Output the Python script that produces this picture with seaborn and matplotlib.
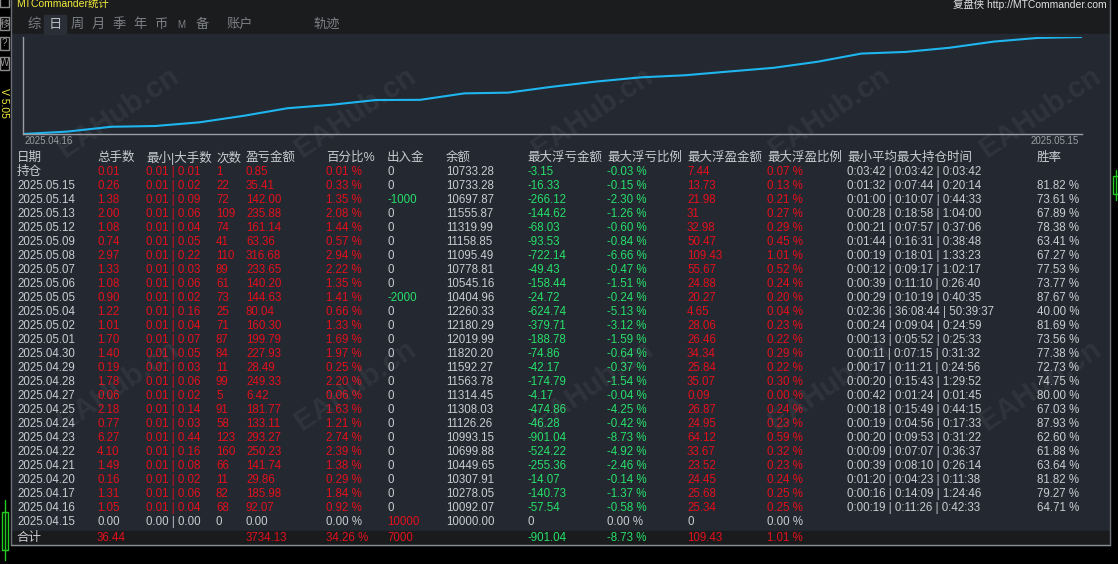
import numpy as np
import pandas as pd
import seaborn as sns
import matplotlib.pyplot as plt
from matplotlib.patches import Rectangle

# ---- data ----
headers = ["日期", "总手数", "最小|大手数", "次数", "盈亏金额", "百分比%", "出入金", "余额",
           "最大浮亏金额", "最大浮亏比例", "最大浮盈金额", "最大浮盈比例", "最小平均最大持仓时间", "胜率"]
dates = ["持仓", "2025.05.15", "2025.05.14", "2025.05.13", "2025.05.12", "2025.05.09", "2025.05.08",
         "2025.05.07", "2025.05.06", "2025.05.05", "2025.05.04", "2025.05.02", "2025.05.01",
         "2025.04.30", "2025.04.29", "2025.04.28", "2025.04.27", "2025.04.25", "2025.04.24",
         "2025.04.23", "2025.04.22", "2025.04.21", "2025.04.20", "2025.04.17", "2025.04.16", "2025.04.15"]
lots = [0.01, 0.26, 1.38, 2.00, 1.08, 0.74, 2.97, 1.33, 1.08, 0.90, 1.22, 1.01, 1.70,
        1.40, 0.19, 1.78, 0.06, 2.18, 0.77, 6.27, 4.10, 1.49, 0.16, 1.31, 1.05, 0.00]
max_lot = [0.01, 0.02, 0.09, 0.06, 0.04, 0.05, 0.22, 0.03, 0.06, 0.02, 0.16, 0.04, 0.07,
           0.05, 0.03, 0.06, 0.02, 0.14, 0.03, 0.44, 0.16, 0.08, 0.02, 0.06, 0.04, 0.00]
trades = [1, 22, 72, 109, 74, 41, 110, 89, 61, 73, 25, 71, 87,
          84, 11, 99, 5, 91, 58, 123, 160, 66, 11, 82, 68, 0]
profit = [0.85, 35.41, 142.00, 235.88, 161.14, 63.36, 316.68, 233.65, 140.20, 144.63, 80.04, 160.30, 199.79,
          227.93, 28.49, 249.33, 6.42, 181.77, 133.11, 293.27, 250.23, 141.74, 29.86, 185.98, 92.07, 0.00]
pct = [0.01, 0.33, 1.35, 2.08, 1.44, 0.57, 2.94, 2.22, 1.35, 1.41, 0.66, 1.33, 1.69,
       1.97, 0.25, 2.20, 0.06, 1.63, 1.21, 2.74, 2.39, 1.38, 0.29, 1.84, 0.92, 0.00]
flow = [0, 0, -1000, 0, 0, 0, 0, 0, 0, -2000, 0, 0, 0,
        0, 0, 0, 0, 0, 0, 0, 0, 0, 0, 0, 0, 10000]
balance = [10733.28, 10733.28, 10697.87, 11555.87, 11319.99, 11158.85, 11095.49, 10778.81, 10545.16,
           10404.96, 12260.33, 12180.29, 12019.99, 11820.20, 11592.27, 11563.78, 11314.45, 11308.03,
           11126.26, 10993.15, 10699.88, 10449.65, 10307.91, 10278.05, 10092.07, 10000.00]
max_loss = [-3.15, -16.33, -266.12, -144.62, -68.03, -93.53, -722.14, -49.43, -158.44, -24.72, -624.74,
            -379.71, -188.78, -74.86, -42.17, -174.79, -4.17, -474.86, -46.28, -901.04, -524.22,
            -255.36, -14.07, -140.73, -57.54, 0]
max_loss_pct = [-0.03, -0.15, -2.30, -1.26, -0.60, -0.84, -6.66, -0.47, -1.51, -0.24, -5.13, -3.12, -1.59,
                -0.64, -0.37, -1.54, -0.04, -4.25, -0.42, -8.73, -4.92, -2.46, -0.14, -1.37, -0.58, 0.00]
max_gain = ["7.44", "13.73", "21.98", "31", "32.98", "50.47", "109.43", "55.67", "24.88", "20.27", "4.65",
            "28.06", "26.46", "34.34", "25.84", "35.07", "0.09", "26.87", "24.95", "64.12", "33.67",
            "23.52", "24.45", "25.68", "25.34", "0"]
max_gain_pct = [0.07, 0.13, 0.21, 0.27, 0.29, 0.45, 1.01, 0.52, 0.24, 0.20, 0.04, 0.23, 0.22,
                0.29, 0.22, 0.30, 0.00, 0.24, 0.23, 0.59, 0.32, 0.23, 0.24, 0.25, 0.25, 0.00]
hold_time = ["0:03:42 | 0:03:42 | 0:03:42", "0:01:32 | 0:07:44 | 0:20:14", "0:01:00 | 0:10:07 | 0:44:33",
             "0:00:28 | 0:18:58 | 1:04:00", "0:00:21 | 0:07:57 | 0:37:06", "0:01:44 | 0:16:31 | 0:38:48",
             "0:00:19 | 0:18:01 | 1:33:23", "0:00:12 | 0:09:17 | 1:02:17", "0:00:39 | 0:11:10 | 0:26:40",
             "0:00:29 | 0:10:19 | 0:40:35", "0:02:36 | 36:08:44 | 50:39:37", "0:00:24 | 0:09:04 | 0:24:59",
             "0:00:13 | 0:05:52 | 0:25:33", "0:00:11 | 0:07:15 | 0:31:32", "0:00:17 | 0:11:21 | 0:24:56",
             "0:00:20 | 0:15:43 | 1:29:52", "0:00:42 | 0:01:24 | 0:01:45", "0:00:18 | 0:15:49 | 0:44:15",
             "0:00:19 | 0:04:56 | 0:17:33", "0:00:20 | 0:09:53 | 0:31:22", "0:00:09 | 0:07:07 | 0:36:37",
             "0:00:39 | 0:08:10 | 0:26:14", "0:01:20 | 0:04:23 | 0:11:38", "0:00:16 | 0:14:09 | 1:24:46",
             "0:00:19 | 0:11:26 | 0:42:33", ""]
win_rate = ["", "81.82 %", "73.61 %", "67.89 %", "78.38 %", "63.41 %", "67.27 %", "77.53 %", "73.77 %",
            "87.67 %", "40.00 %", "81.69 %", "73.56 %", "77.38 %", "72.73 %", "74.75 %", "80.00 %",
            "67.03 %", "87.93 %", "62.60 %", "61.88 %", "63.64 %", "81.82 %", "79.27 %", "64.71 %", ""]
totals = {"总手数": "36.44", "盈亏金额": "3734.13", "百分比%": "34.26 %", "出入金": "7000",
          "最大浮亏金额": "-901.04", "最大浮亏比例": "-8.73 %", "最大浮盈金额": "109.43", "最大浮盈比例": "1.01 %"}
tabs = ["综", "日", "周", "月", "季", "年", "币", "M", "备", "账户", "轨迹"]

# ---- style ----
sns.set_theme(style="dark")
plt.rcParams['font.family'] = ['Liberation Sans', 'Noto Sans CJK SC', 'DejaVu Sans']

BLACK = "#000000"
TOPBAR = "#1b1c1e"
PANEL = "#232831"
GREY = "#c9ccd1"
RED = "#e3101c"
GREEN = "#27e06a"
YELLOW = "#f2ec3a"
LINE = "#1fb6ef"

W, H = 1118, 564
fig = plt.figure(figsize=(W / 100, H / 100), dpi=100, facecolor=BLACK)

# full-figure canvas in pixel coords
bg = fig.add_axes([0, 0, 1, 1])
bg.set_xlim(0, W)
bg.set_ylim(H, 0)
bg.axis("off")

bg.add_patch(Rectangle((11, 0), 1099, 34, color=TOPBAR, zorder=0))
bg.add_patch(Rectangle((11, 34), 1099, 511, color=PANEL, zorder=0))
bg.add_patch(Rectangle((11, 531), 1099, 14, color="#1a1b1d", zorder=0))
bg.plot([11, 11], [0, 545], color="#6a6e74", lw=1)
bg.plot([1110, 1110], [0, 545], color="#6a6e74", lw=1)
bg.plot([11, 1110], [545, 545], color="#8a8e94", lw=1)

# left tool strip
for yb, lab in [(-6, ""), (17, "移"), (37, "?"), (57, "W")]:
    bg.add_patch(Rectangle((0, yb), 9, 13, fill=False, ec="#8a8a8a", lw=1))
    bg.text(4.5, yb + 6.5, lab, color="#9a9a9a", fontsize=7, ha="center", va="center")
bg.text(4, 103, "V 5.05", color=YELLOW, fontsize=7.5, rotation=270, ha="center", va="center")
bg.plot([5, 5], [500, 560], color="#22cc22", lw=1)
bg.add_patch(Rectangle((2, 512), 6, 38, fill=False, ec="#22cc22", lw=1))
bg.plot([1116, 1116], [170, 200], color="#22cc22", lw=1)
bg.add_patch(Rectangle((1113, 176), 6, 18, fill=False, ec="#22cc22", lw=1))

# title bar
bg.text(16, 4, "MTCommander统计", color=YELLOW, fontsize=7.5, va="center", ha="left")
bg.text(1107, 4, "复盘侠 http://MTCommander.com", color="#e0e0e0", fontsize=7.5, va="center", ha="right")
tab_x = [34, 55, 77, 98, 119, 140, 161, 181, 202, 240, 327]
bg.add_patch(Rectangle((44, 15), 22, 19, color="#2a2f37", zorder=1))
for tx, t in zip(tab_x, tabs):
    bg.text(tx, 25, t, color="#b8bcc2" if t == "日" else "#7d8085",
            fontsize=7 if t == "M" else 9.5, ha="center", va="center", zorder=2)

# ---- equity curve (cumulative profit by day, oldest first) ----
day_profit = profit[1:-1][::-1]
equity = pd.DataFrame({"step": np.arange(len(day_profit) + 1),
                       "pnl": np.concatenate([[0.0], np.cumsum(day_profit)])})
ax = fig.add_axes([23 / W, 1 - 134 / H, (1082 - 23) / W, (134 - 37) / H])
sns.lineplot(data=equity, x="step", y="pnl", ax=ax, color=LINE, lw=1.5)
ax.set_facecolor("none")
ax.set_xlim(0, len(day_profit))
ax.set_ylim(0, equity["pnl"].max())
ax.set_xticks([])
ax.set_yticks([])
ax.set_xlabel("")
ax.set_ylabel("")
for s in ["top", "right"]:
    ax.spines[s].set_visible(False)
for s in ["left", "bottom"]:
    ax.spines[s].set_visible(True)
    ax.spines[s].set_color("#9a9ea4")
    ax.spines[s].set_linewidth(1)
bg.text(25, 141, dates[-2], color="#9a9ea4", fontsize=7, ha="left", va="center")
bg.text(1079, 141, dates[1], color="#9a9ea4", fontsize=7, ha="right", va="center")


# ---- table ----
def sign_color(v):
    if v > 0:
        return RED
    if v < 0:
        return GREEN
    return GREY


col_x = [17, 97, 146, 216, 246, 326, 387, 446, 527, 607, 687, 767, 847, 1037]
HEAD_Y = 158
ROW0 = 172
PITCH = 14.0
FS = 8.3

for cx, h in zip(col_x, headers):
    bg.text(cx, HEAD_Y, h, color=GREY, fontsize=9, ha="left", va="center")

for i, d in enumerate(dates):
    y = ROW0 + i * PITCH
    active = trades[i] > 0
    bg.text(col_x[0], y, d, color=GREY, fontsize=9 if d == "持仓" else FS, ha="left", va="center")
    bg.text(col_x[1], y, f"{lots[i]:.2f}", color=sign_color(lots[i]), fontsize=FS, va="center")
    mn = 0.01 if max_lot[i] > 0 else 0.0
    bg.text(col_x[2], y, f"{mn:.2f} | {max_lot[i]:.2f}", color=sign_color(max_lot[i]), fontsize=FS, va="center")
    bg.text(col_x[3], y, f"{trades[i]}", color=sign_color(trades[i]), fontsize=FS, va="center")
    bg.text(col_x[4], y, f"{profit[i]:.2f}", color=sign_color(profit[i]), fontsize=FS, va="center")
    bg.text(col_x[5], y, f"{pct[i]:.2f} %", color=sign_color(pct[i]), fontsize=FS, va="center")
    bg.text(col_x[6], y, f"{flow[i]}", color=sign_color(flow[i]), fontsize=FS, va="center")
    bg.text(col_x[7], y, f"{balance[i]:.2f}", color=GREY, fontsize=FS, va="center")
    ml = "0" if max_loss[i] == 0 else f"{max_loss[i]:.2f}"
    bg.text(col_x[8], y, ml, color=sign_color(max_loss[i]), fontsize=FS, va="center")
    bg.text(col_x[9], y, f"{max_loss_pct[i]:.2f} %", color=GREEN if active else GREY, fontsize=FS, va="center")
    bg.text(col_x[10], y, max_gain[i], color=RED if active else GREY, fontsize=FS, va="center")
    bg.text(col_x[11], y, f"{max_gain_pct[i]:.2f} %", color=RED if active else GREY, fontsize=FS, va="center")
    bg.text(col_x[12], y, hold_time[i], color=GREY, fontsize=FS, va="center")
    bg.text(col_x[13], y, win_rate[i], color=GREY, fontsize=FS, va="center")

TOT_Y = 538
bg.text(col_x[0], TOT_Y, "合计", color=GREY, fontsize=9, va="center")
for h, v in totals.items():
    c = GREEN if v.startswith("-") else RED
    bg.text(col_x[headers.index(h)], TOT_Y, v, color=c, fontsize=FS, va="center")

# faint site watermark
for wy in [112, 385]:
    for wx in [118, 355, 592, 829, 1040]:
        bg.text(wx, wy, "EAHub.cn", color="white", alpha=0.06, fontsize=21, fontweight="bold",
                rotation=34, ha="center", va="center", zorder=5)

fig.savefig("out.png", dpi=100, facecolor=BLACK)
